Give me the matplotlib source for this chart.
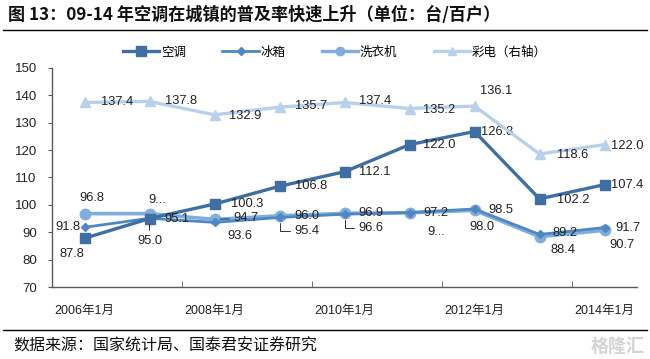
import matplotlib
matplotlib.use("Agg")
import matplotlib.pyplot as plt
from matplotlib.lines import Line2D

plt.rcParams['font.family'] = ['Liberation Sans', 'Noto Sans CJK SC', 'DejaVu Sans']

years = ["2006年1月", "2007年1月", "2008年1月", "2009年1月", "2010年1月",
         "2011年1月", "2012年1月", "2013年1月", "2014年1月"]
ac = [87.8, 95.0, 100.3, 106.8, 112.1, 122.0, 126.8, 102.2, 107.4]
fridge = [91.8, 95.1, 93.6, 95.4, 96.6, 97.2, 98.5, 89.2, 91.7]
washer = [96.8, 96.8, 94.7, 96.0, 96.9, 97.1, 98.0, 88.4, 90.7]
tv = [137.4, 137.8, 132.9, 135.7, 137.4, 135.2, 136.1, 118.6, 122.0]
y_ticks = [70, 80, 90, 100, 110, 120, 130, 140, 150]
series_names = ["空调", "冰箱", "洗衣机", "彩电（右轴）"]
title = "图 13：09-14 年空调在城镇的普及率快速上升（单位：台/百户）"
source = "数据来源：国家统计局、国泰君安证券研究"

# labels shown truncated in the original
trunc = {("washer", 1): "9...", ("washer", 5): "9..."}

c_ac = "#3F6FA2"
c_fr = "#4F87C2"
c_wa = "#7FAEDD"
c_tv = "#B8D0EC"

fig = plt.figure(figsize=(6.5, 3.59), dpi=100)
ax = fig.add_axes([52/650, 1-287/359, (637-52)/650, (287-68)/359])
ax2 = ax.twinx()

x = list(range(len(years)))
ax2.plot(x, tv, color=c_tv, lw=2.4, marker="^", ms=7.5, mec=c_tv, mfc=c_tv, zorder=2)
ax.plot(x, washer, color=c_wa, lw=2.6, marker="o", ms=7.5, mec=c_wa, mfc=c_wa, zorder=3)
ax.plot(x, fridge, color=c_fr, lw=2.0, marker="D", ms=4.5, mec=c_fr, mfc=c_fr, zorder=4)
ax.plot(x, ac, color=c_ac, lw=2.4, marker="s", ms=7.5, mec=c_ac, mfc=c_ac, zorder=5)

for a in (ax, ax2):
    a.set_ylim(70, 150)
    a.set_xlim(-0.5, len(years) - 0.5)
ax2.axis("off")

ax.set_yticks(y_ticks)
ax.set_yticklabels([str(v) for v in y_ticks], fontsize=9.5, color="#222222")
ax.set_xticks(x[::2])
ax.set_xticklabels(years[::2], fontsize=9, color="#222222")
ax.set_xticks([i + 0.5 for i in x[1:-1:2]], minor=True)
ax.tick_params(axis="x", which="major", length=0, pad=13)
ax.tick_params(axis="x", which="minor", direction="in", length=4, color="#595959")
ax.tick_params(axis="y", direction="out", length=3, color="#595959", pad=8)
for s in ("top", "right"):
    ax.spines[s].set_visible(False)
for s in ("left", "bottom"):
    ax.spines[s].set_color("#595959")
    ax.spines[s].set_linewidth(1.0)

fs = 9.3
def lab(a, xi, yv, text, dx, dy, ha="left", leader=None):
    kw = {}
    if leader is not None:
        kw["arrowprops"] = dict(arrowstyle="-", color="#333333", lw=0.7,
                                connectionstyle=leader, shrinkA=1, shrinkB=4)
    a.annotate(text, (xi, yv), xytext=(dx, dy), textcoords="offset pixels",
               ha=ha, va="center", fontsize=fs, color="#222222", zorder=10, **kw)

# TV labels
tv_off = [(17, 0), (15, 0), (15, -1), (15, 1), (15, 1), (14, -1), (22, 15, "center"), (18, -1), (6, -1)]
for i, v in enumerate(tv):
    o = tv_off[i]
    lab(ax2, i, v, f"{v:.1f}", o[0], o[1], o[2] if len(o) > 2 else "left")

# AC labels
ac_off = [(-13, -16, "center"), (0, -22, "center"), (17, 0), (15, 0), (15, 0), (14, 0), (6, 0), (17, -1), (6, 0)]
for i, v in enumerate(ac):
    o = ac_off[i]
    leader = "arc3" if i == 1 else None
    lab(ax, i, v, f"{v:.1f}", o[0], o[1], o[2] if len(o) > 2 else "left", leader)

# Fridge labels
fr_off = [(-4, 0, "right"), (15, -1), (25, -14, "center"), (15, -14), (14, -14), (14, 0), (14, -1), (13, 1), (11, 0)]
for i, v in enumerate(fridge):
    o = fr_off[i]
    leader = "angle,angleA=0,angleB=90,rad=0" if i in (3, 4) else None
    lab(ax, i, v, f"{v:.1f}", o[0], o[1], o[2] if len(o) > 2 else "left", leader)

# Washer labels
wa_off = [(7, 16, "center"), (-1, 14), (19, 1), (15, 0), (14, 0), (18, -19), (7, -17, "center"), (11, -13), (5, -15)]
for i, v in enumerate(washer):
    o = wa_off[i]
    txt = trunc.get(("washer", i), f"{v:.1f}")
    leader = "arc3" if i == 2 else None
    lab(ax, i, v, txt, o[0], o[1], o[2] if len(o) > 2 else "left", leader)

# legend
handles = [
    Line2D([], [], color=c_ac, lw=2.4, marker="s", ms=7),
    Line2D([], [], color=c_fr, lw=2.0, marker="D", ms=4),
    Line2D([], [], color=c_wa, lw=2.4, marker="o", ms=6),
    Line2D([], [], color=c_tv, lw=2.4, marker="^", ms=6),
]
fig.legend(handles, series_names, loc="center", bbox_to_anchor=(335/650, 1-52/359),
           ncol=4, frameon=False, handlelength=2.9, handletextpad=0.15,
           columnspacing=2.9, prop={"family": ["Noto Sans CJK SC"], "size": 9})

# title, rules, source
fig.text(8/650, 1-15/359, title, fontsize=12.3, fontweight="bold",
         family=["Noto Sans CJK SC"], ha="left", va="center", color="#111111")
fig.add_artist(Line2D([3/650, 647/650], [1-30/359, 1-30/359], color="black", lw=1.0))
fig.add_artist(Line2D([3/650, 647/650], [1-330/359, 1-330/359], color="black", lw=1.0))
fig.text(13/650, 1-346/359, source, fontsize=11.5, family=["Noto Sans CJK SC"],
         ha="left", va="center", color="#111111")
fig.text(645/650, 1-346/359, "格隆汇", fontsize=13, family=["Noto Sans CJK SC"],
         ha="right", va="center", color="#d4d4d4", fontweight="bold")

fig.savefig("out.png", dpi=100)
